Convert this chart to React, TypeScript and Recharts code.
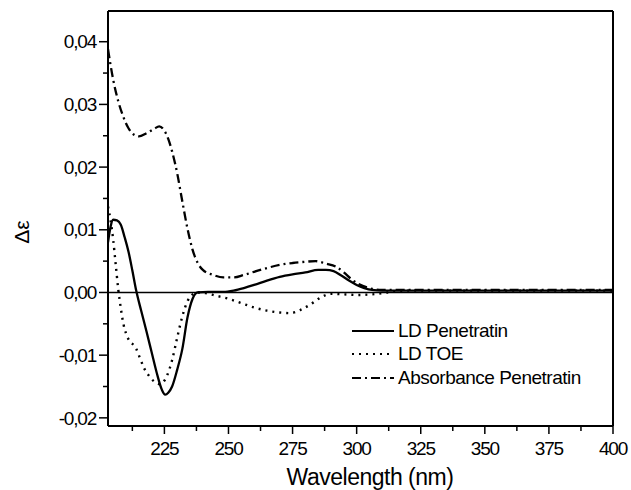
import { Legend, Line, LineChart, ReferenceLine, XAxis, YAxis } from 'recharts';

// wavelength (nm) / delta epsilon
const ABS_WL = [
  203, 205, 207, 209, 211, 213, 215, 218, 221, 223, 225, 226.5, 228, 230, 232, 234, 236, 238, 240, 244,
  248, 252, 256, 260, 265, 270, 275, 280, 284, 288, 292, 295, 298, 301, 304, 307, 310, 320, 340, 360, 380, 400,
];
const ABS_VAL = [
  0.0388, 0.034, 0.0305, 0.028, 0.0262, 0.0252, 0.0249, 0.0254, 0.0261, 0.0265, 0.0258, 0.0245, 0.0225,
  0.019, 0.0145, 0.0102, 0.0068, 0.0047, 0.0036, 0.0028, 0.0024, 0.0024, 0.0028, 0.0033, 0.0039, 0.0044,
  0.0047, 0.0049, 0.005, 0.0046, 0.0041, 0.0032, 0.0021, 0.0013, 0.0008, 0.0005, 0.0004, 0.0004, 0.0004,
  0.0004, 0.0004, 0.0004,
];

const LD_PEN_WL = [
  203, 204, 205, 206.5, 208, 209.5, 211, 212.5, 214, 216, 218, 220, 222, 224, 225.3, 226.5, 228, 230, 232,
  234, 236, 238, 242, 248, 252, 256, 260, 265, 270, 275, 280, 285, 288, 291, 294, 297, 300, 303, 306, 310,
  320, 360, 400,
];
const LD_PEN_VAL = [
  0.008, 0.0105, 0.0116, 0.0115, 0.0108, 0.0088, 0.0065, 0.0035, 0.0003, -0.003, -0.0062, -0.0095, -0.0128,
  -0.0155, -0.0163, -0.016, -0.015, -0.0123, -0.009, -0.004, -0.001, 0, 0.0001, 0.0001, 0.0003, 0.0007,
  0.0012, 0.0019, 0.0025, 0.0029, 0.0032, 0.0036, 0.0036, 0.0034, 0.0027, 0.0019, 0.0012, 0.0007, 0.0004,
  0.0003, 0.0003, 0.0003, 0.0003,
];

const LD_TOE_WL = [
  203, 204, 205, 206, 207, 208, 209, 210, 211.5, 213, 214, 215.5, 217, 219, 221, 223, 224.5, 226, 228, 230,
  232, 234, 236, 238, 241, 245, 250, 255, 260, 265, 270, 274, 278, 282, 286, 290, 295, 300, 306, 312, 320,
  360, 400,
];
const LD_TOE_VAL = [
  0.0137, 0.0115, 0.0085, 0.0045, 0.0005, -0.0025, -0.005, -0.0065, -0.0078, -0.0084, -0.009, -0.0105,
  -0.012, -0.0133, -0.0142, -0.0146, -0.0143, -0.0133, -0.0108, -0.0072, -0.0038, -0.0014, -0.0003, 0,
  -0.0001, -0.0005, -0.001, -0.0017, -0.0024, -0.0029, -0.0032, -0.0033, -0.0028, -0.0019, -0.0008,
  -0.0002, -0.0003, -0.0004, -0.0003, 0, 0.0003, 0.0003, 0.0003,
];

const X_MAJOR = [225, 250, 275, 300, 325, 350, 375, 400];
const X_MINOR = [212.5, 237.5, 262.5, 287.5, 312.5, 337.5, 362.5, 387.5];
const Y_MAJOR = [-0.02, -0.01, 0, 0.01, 0.02, 0.03, 0.04];
const Y_MINOR = [-0.015, -0.005, 0.005, 0.015, 0.025, 0.035];

const X_DOMAIN: [number, number] = [203, 400];
const Y_DOMAIN: [number, number] = [-0.0213, 0.0449];

const FONT = '"Liberation Sans", Arial, Helvetica, sans-serif';
const INK = '#000';

const toPoints = (wl: number[], val: number[]) => wl.map((x, i) => ({ x, y: val[i] }));

const SERIES = [
  { name: 'LD Penetratin', data: toPoints(LD_PEN_WL, LD_PEN_VAL), dash: undefined, width: 2.3 },
  { name: 'LD TOE', data: toPoints(LD_TOE_WL, LD_TOE_VAL), dash: '2 5', width: 2.4 },
  { name: 'Absorbance Penetratin', data: toPoints(ABS_WL, ABS_VAL), dash: '9 4 2 4', width: 2.3 },
];

const X_TICKS = [...X_MAJOR, ...X_MINOR].sort((a, b) => a - b);
const Y_TICKS = [...Y_MAJOR, ...Y_MINOR].sort((a, b) => a - b);

const isMajor = (list: number[], v: number) => list.some((m) => Math.abs(m - v) < 1e-9);
const formatY = (v: number) => v.toFixed(2).replace('.', ',');

function XTick({ x, y, payload }: any) {
  const major = isMajor(X_MAJOR, payload.value);
  return (
    <g>
      <line x1={x} x2={x} y1={y} y2={y + (major ? 8 : 5)} stroke={INK} strokeWidth={1.5} />
      {major && (
        <text x={x} y={y + 29} textAnchor="middle" fontSize={19} fontFamily={FONT} fill={INK} letterSpacing={-1.2}>
          {payload.value}
        </text>
      )}
    </g>
  );
}

function YTick({ x, y, payload }: any) {
  const major = isMajor(Y_MAJOR, payload.value);
  return (
    <g>
      <line x1={x} x2={x - (major ? 9 : 5)} y1={y} y2={y} stroke={INK} strokeWidth={1.5} />
      {major && (
        <text x={x - 12} y={y} dy="0.35em" textAnchor="end" fontSize={19} fontFamily={FONT} fill={INK} letterSpacing={-1.2}>
          {formatY(payload.value)}
        </text>
      )}
    </g>
  );
}

function LegendBox() {
  return (
    <div style={{ fontFamily: FONT, fontSize: 19, color: INK, letterSpacing: -0.5 }}>
      {SERIES.map((s) => (
        <div key={s.name} style={{ display: 'flex', alignItems: 'center', height: 23.5 }}>
          <svg width={46} height={10} style={{ marginRight: 2 }}>
            <line x1={2} x2={44} y1={5} y2={5} stroke={INK} strokeWidth={2.2} strokeDasharray={s.dash} />
          </svg>
          <span>{s.name}</span>
        </div>
      ))}
    </div>
  );
}

export default function App() {
  return (
    <div style={{ position: 'absolute', left: 0, top: 0, width: 631, height: 490, background: '#fff' }}>
      <LineChart width={631} height={490} margin={{ top: 11, right: 18, bottom: 0, left: 0 }}>
        <XAxis
          type="number"
          dataKey="x"
          domain={X_DOMAIN}
          allowDataOverflow
          ticks={X_TICKS}
          interval={0}
          height={64}
          tickSize={0}
          tickMargin={0}
          tickLine={false}
          tick={<XTick />}
          axisLine={{ stroke: INK, strokeWidth: 2 }}
          label={{
            content: () => (
              <text x={370} y={485} textAnchor="middle" fontSize={23} fontFamily={FONT} fill={INK} letterSpacing={-0.5}>
                Wavelength (nm)
              </text>
            ),
          }}
        />
        <YAxis
          type="number"
          domain={Y_DOMAIN}
          allowDataOverflow
          ticks={Y_TICKS}
          interval={0}
          width={108}
          tickSize={0}
          tickMargin={0}
          tickLine={false}
          tick={<YTick />}
          axisLine={{ stroke: INK, strokeWidth: 2 }}
          label={{
            content: () => (
              <text
                x={22}
                y={232}
                dy="0.35em"
                transform="rotate(-90 22 232)"
                textAnchor="middle"
                fontSize={21}
                fontFamily={FONT}
                fill={INK}
              >
                Δε
              </text>
            ),
          }}
        />
        {/* top and right sides of the frame */}
        <ReferenceLine y={Y_DOMAIN[1]} stroke={INK} strokeWidth={2} />
        <ReferenceLine x={X_DOMAIN[1]} stroke={INK} strokeWidth={2} />
        <ReferenceLine y={0} stroke={INK} strokeWidth={1.5} />
        {SERIES.map((s) => (
          <Line
            key={s.name}
            data={s.data}
            dataKey="y"
            name={s.name}
            type="monotone"
            stroke={INK}
            strokeWidth={s.width}
            strokeDasharray={s.dash}
            dot={false}
            activeDot={false}
            isAnimationActive={false}
          />
        ))}
        <Legend
          layout="vertical"
          align="center"
          verticalAlign="middle"
          wrapperStyle={{ left: 350, top: 319, width: 270 }}
          content={() => <LegendBox />}
        />
      </LineChart>
    </div>
  );
}
